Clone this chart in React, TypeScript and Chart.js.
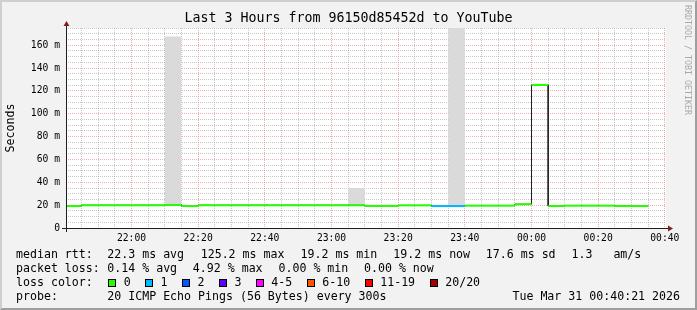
import React, { useEffect, useRef } from 'react';
import { Chart, registerables } from 'chart.js';

Chart.register(...registerables);

// ---------------- data ----------------
const titleText = 'Last 3 Hours from 96150d85452d to YouTube';
const yAxisTitle = 'Seconds';
const watermarkText = 'RRDTOOL / TOBI OETIKER';

const viewStart = '21:40:21';
const viewEnd = '00:40:21';

// 5-minute intervals (start times)
const intervalStart: string[] = [
  '21:40', '21:45', '21:50', '21:55', '22:00', '22:05', '22:10', '22:15', '22:20', '22:25', '22:30', '22:35',
  '22:40', '22:45', '22:50', '22:55', '23:00', '23:05', '23:10', '23:15', '23:20', '23:25', '23:30', '23:35',
  '23:40', '23:45', '23:50', '23:55', '00:00', '00:05', '00:10', '00:15', '00:20', '00:25', '00:30', '00:35',
];
// median round trip time in ms
const medianRttMs: (number | null)[] = [
  19.2, 19.9, 19.9, 19.9, 19.9, 19.9, 20.2, 19.2, 19.9, 19.9, 19.9, 19.9,
  19.9, 19.9, 19.9, 19.9, 19.9, 19.9, 19.3, 19.3, 19.8, 19.8, 19.2, 19.2,
  19.6, 19.6, 19.6, 20.8, 125.2, 19.2, 19.6, 19.6, 19.6, 19.2, 19.2, null,
];
// lost pings out of 20
const lostPings: number[] = [
  0, 0, 0, 0, 0, 0, 0, 0, 0, 0, 0, 0,
  0, 0, 0, 0, 0, 0, 0, 0, 0, 0, 1, 1,
  0, 0, 0, 0, 0, 0, 0, 0, 0, 0, 0, 0,
];
// smoke (ping spread) that rises visibly above the median line
const smokeStart: string[] = ['22:10', '23:05', '23:35'];
const smokeLowMs: number[] = [19.6, 19.6, 19.0];
const smokeHighMs: number[] = [167.5, 35.0, 190.0];

const xTickLabels: string[] = ['22:00', '22:20', '22:40', '23:00', '23:20', '23:40', '00:00', '00:20', '00:40'];
const yTickValues: number[] = [0, 20, 40, 60, 80, 100, 120, 140, 160];
const yTickLabels: string[] = ['0', '20 m', '40 m', '60 m', '80 m', '100 m', '120 m', '140 m', '160 m'];
const yMaxMs = 175;

const rttLabel = 'median rtt:';
const rttStats: string[] = ['22.3 ms avg', '125.2 ms max', '19.2 ms min', '19.2 ms now', '17.6 ms sd', '1.3   am/s'];
const lossLabel = 'packet loss:';
const lossStats: string[] = ['0.14 % avg', '4.92 % max', '0.00 % min', '0.00 % now'];
const lossColorLabel = 'loss color:';
const lossColorLabels: string[] = ['0', '1', '2', '3', '4-5', '6-10', '11-19', '20/20'];
const lossColors: string[] = ['#26ff00', '#00b8ff', '#0059ff', '#5e00ff', '#ff00ff', '#ff5500', '#ff0000', '#a10000'];
const probeLabel = 'probe:';
const probeText = '20 ICMP Echo Pings (56 Bytes) every 300s';
const stampText = 'Tue Mar 31 00:40:21 2026';

// ---------------- layout (positions only) ----------------
const MONO = '"DejaVu Sans Mono", monospace';
const W = 697;
const H = 310;
const rowTop = [247, 261, 275, 289];
const labelX = 16;
const statX0 = 107.3;
const rttStatX = [107.3, 200.7, 300.5, 393.3, 485.8, 571.5];
const lossStatX = [107.3, 192.8, 278.5, 364];
const lossBoxX = [108, 145, 182, 219, 256, 307, 365, 430];
const lossLabelX = [123.7, 160.6, 197.5, 234.4, 271.3, 322.3, 380.2, 445.2];

const ORIGIN_MIN = 21 * 60 + 40;
function toMin(s: string): number {
  const p = s.split(':').map(Number);
  let m = p[0] * 60 + p[1] + (p[2] || 0) / 60 - ORIGIN_MIN;
  if (m < -60) m += 1440;
  return m;
}
function lossClass(n: number): number {
  if (n <= 3) return n;
  if (n <= 5) return 4;
  if (n <= 10) return 5;
  if (n <= 19) return 6;
  return 7;
}

export default function App() {
  const ref = useRef<HTMLCanvasElement>(null);

  useEffect(() => {
    const canvas = ref.current;
    if (!canvas) return;
    const STEP = 5;

    const pts: { x: number; y: number | null }[] = [];
    const ptInterval: number[] = [];
    intervalStart.forEach((s, i) => {
      const x0 = toMin(s);
      const v = medianRttMs[i];
      if (v == null) {
        pts.push({ x: x0, y: null });
        ptInterval.push(i);
        return;
      }
      pts.push({ x: x0, y: v });
      ptInterval.push(i);
      pts.push({ x: x0 + STEP, y: v });
      ptInterval.push(i);
    });

    const smokeSets = smokeStart.map((s, i) => ({
      data: [
        { x: toMin(s), y: smokeHighMs[i] },
        { x: toMin(s) + STEP, y: smokeHighMs[i] },
      ],
      fill: { value: smokeLowMs[i] },
      backgroundColor: '#dadada',
      borderColor: 'rgba(0,0,0,0)',
      borderWidth: 1,
      pointRadius: 0,
      order: 2,
    }));

    const xLabelFor = (v: number) => {
      const f = xTickLabels.find((l) => Math.abs(toMin(l) - v) < 1e-6);
      return f ?? '';
    };
    const yLabelFor = (v: number) => {
      const i = yTickValues.indexOf(v);
      return i >= 0 ? yTickLabels[i] : '';
    };
    const minorColor = 'rgba(143,143,143,0.5)';
    const majorColor = 'rgba(222,79,79,0.45)';

    const decor = {
      id: 'rrdDecor',
      beforeDraw(chart: any) {
        const { ctx, chartArea: a } = chart;
        ctx.save();
        ctx.fillStyle = '#ffffff';
        ctx.fillRect(a.left, a.top, a.right - a.left, a.bottom - a.top);
        ctx.restore();
      },
      afterDraw(chart: any) {
        const { ctx, chartArea: a } = chart;
        const x0 = Math.round(a.left) + 0.5;
        const y0 = Math.round(a.bottom) + 0.5;
        ctx.save();
        ctx.strokeStyle = 'rgb(31,31,31)';
        ctx.lineWidth = 1;
        ctx.beginPath();
        ctx.moveTo(a.left - 4, y0);
        ctx.lineTo(a.right + 4, y0);
        ctx.moveTo(x0, a.bottom + 4);
        ctx.lineTo(x0, a.top - 4);
        ctx.stroke();
        ctx.fillStyle = 'rgb(128,31,31)';
        ctx.beginPath();
        ctx.moveTo(a.right + 2, y0 - 3);
        ctx.lineTo(a.right + 2, y0 + 3);
        ctx.lineTo(a.right + 7, y0);
        ctx.closePath();
        ctx.fill();
        ctx.beginPath();
        ctx.moveTo(x0 - 3, a.top - 2);
        ctx.lineTo(x0 + 3, a.top - 2);
        ctx.lineTo(x0, a.top - 7);
        ctx.closePath();
        ctx.fill();
        ctx.restore();
      },
    };

    const chart = new Chart(canvas, {
      type: 'line',
      data: {
        datasets: [
          {
            data: pts,
            borderWidth: 2,
            borderColor: lossColors[0],
            borderCapStyle: 'butt',
            pointRadius: 0,
            tension: 0,
            spanGaps: false,
            order: 0,
            segment: {
              borderColor: (c: any) => {
                const a = pts[c.p0DataIndex];
                const b = pts[c.p1DataIndex];
                if (!a || !b || a.x === b.x) return 'rgba(0,0,0,0)';
                return lossColors[lossClass(lostPings[ptInterval[c.p0DataIndex]])];
              },
            },
          },
          {
            data: pts,
            borderWidth: 1,
            borderColor: '#202020',
            pointRadius: 0,
            tension: 0,
            spanGaps: false,
            order: 1,
          },
          ...smokeSets,
        ] as any,
      },
      options: {
        animation: false,
        responsive: false,
        devicePixelRatio: 1,
        events: [],
        layout: { padding: { left: 0, right: 0, top: 0, bottom: 62 } },
        plugins: {
          legend: { display: false },
          tooltip: { enabled: false },
          title: {
            display: true,
            text: titleText,
            color: '#000',
            font: { family: MONO, size: 13.3, weight: 'normal', lineHeight: '16px' },
            padding: { top: 11, bottom: 1 },
          },
        },
        scales: {
          x: {
            type: 'linear',
            min: toMin(viewStart),
            max: toMin(viewEnd),
            afterBuildTicks: (s: any) => {
              const out: { value: number }[] = [];
              for (let v = Math.ceil(s.min / STEP) * STEP; v <= s.max + 1e-9; v += STEP) out.push({ value: v });
              s.ticks = out;
            },
            afterFit: (s: any) => {
              s.height = 20;
            },
            ticks: {
              autoSkip: false,
              maxRotation: 0,
              minRotation: 0,
              padding: 4.5,
              color: '#000',
              font: { family: MONO, size: 9.7 },
              callback: (v: any) => xLabelFor(Number(v)),
            },
            grid: {
              drawTicks: false,
              lineWidth: 1,
              color: (c: any) => (c.tick && xLabelFor(c.tick.value) !== '' ? majorColor : minorColor),
            },
            border: { display: false, dash: [1, 1] },
          },
          y: {
            type: 'linear',
            position: 'left',
            min: 0,
            max: yMaxMs,
            afterBuildTicks: (s: any) => {
              const out: { value: number }[] = [];
              for (let v = 0; v <= yMaxMs; v += 5) out.push({ value: v });
              s.ticks = out;
            },
            afterFit: (s: any) => {
              s.width = 66;
            },
            ticks: {
              autoSkip: false,
              padding: 6,
              color: '#000',
              font: { family: MONO, size: 9.7 },
              callback: (v: any) => yLabelFor(Number(v)),
            },
            grid: {
              drawTicks: false,
              lineWidth: 1,
              color: (c: any) => (c.tick && yTickValues.includes(c.tick.value) ? majorColor : minorColor),
            },
            border: { display: false, dash: [1, 1] },
            title: {
              display: true,
              text: yAxisTitle,
              color: '#000',
              font: { family: MONO, size: 11.6, lineHeight: '14px' },
              padding: { top: 4, bottom: 0 },
            },
          },
          yR: {
            type: 'linear',
            position: 'right',
            min: 0,
            max: 1,
            afterFit: (s: any) => {
              s.width = 31;
            },
            ticks: { display: false },
            grid: { display: false },
            border: { display: false },
          },
        },
      } as any,
      plugins: [decor],
    });

    return () => chart.destroy();
  }, []);

  const textStyle = (left: number, top: number): React.CSSProperties => ({
    position: 'absolute',
    left,
    top,
    font: `11.6px ${MONO}`,
    lineHeight: '14px',
    whiteSpace: 'pre',
    color: '#000',
  });

  return (
    <div style={{ position: 'absolute', left: 0, top: 0, width: W, height: H, background: '#f2f2f2', overflow: 'hidden' }}>
      <canvas ref={ref} width={W} height={H} style={{ position: 'absolute', left: 0, top: 0, width: W, height: H }} />

      <div style={textStyle(labelX, rowTop[0])}>{rttLabel}</div>
      {rttStats.map((s, i) => (
        <div key={'r' + i} style={textStyle(rttStatX[i], rowTop[0])}>{s}</div>
      ))}

      <div style={textStyle(labelX, rowTop[1])}>{lossLabel}</div>
      {lossStats.map((s, i) => (
        <div key={'l' + i} style={textStyle(lossStatX[i], rowTop[1])}>{s}</div>
      ))}

      <div style={textStyle(labelX, rowTop[2])}>{lossColorLabel}</div>
      {lossColorLabels.map((s, i) => (
        <React.Fragment key={'c' + i}>
          <div
            style={{
              position: 'absolute',
              left: lossBoxX[i],
              top: rowTop[2] + 4,
              width: 8,
              height: 8,
              boxSizing: 'border-box',
              border: '1px solid #000',
              background: lossColors[i],
            }}
          />
          <div style={textStyle(lossLabelX[i], rowTop[2])}>{s}</div>
        </React.Fragment>
      ))}

      <div style={textStyle(labelX, rowTop[3])}>{probeLabel}</div>
      <div style={textStyle(statX0, rowTop[3])}>{probeText}</div>
      <div style={{ ...textStyle(0, rowTop[3]), left: undefined, right: 17 }}>{stampText}</div>

      <div
        style={{
          position: 'absolute',
          left: 688,
          top: 60,
          transform: 'translate(-50%, -50%) rotate(90deg)',
          font: `8.3px ${MONO}`,
          lineHeight: '10px',
          whiteSpace: 'pre',
          color: '#a9a9a9',
        }}
      >
        {watermarkText}
      </div>

      <div
        style={{
          position: 'absolute',
          left: 0,
          top: 0,
          width: W,
          height: H,
          boxSizing: 'border-box',
          borderStyle: 'solid',
          borderWidth: 2,
          borderColor: '#cfcfcf #9e9e9e #9e9e9e #cfcfcf',
          pointerEvents: 'none',
        }}
      />
    </div>
  );
}
